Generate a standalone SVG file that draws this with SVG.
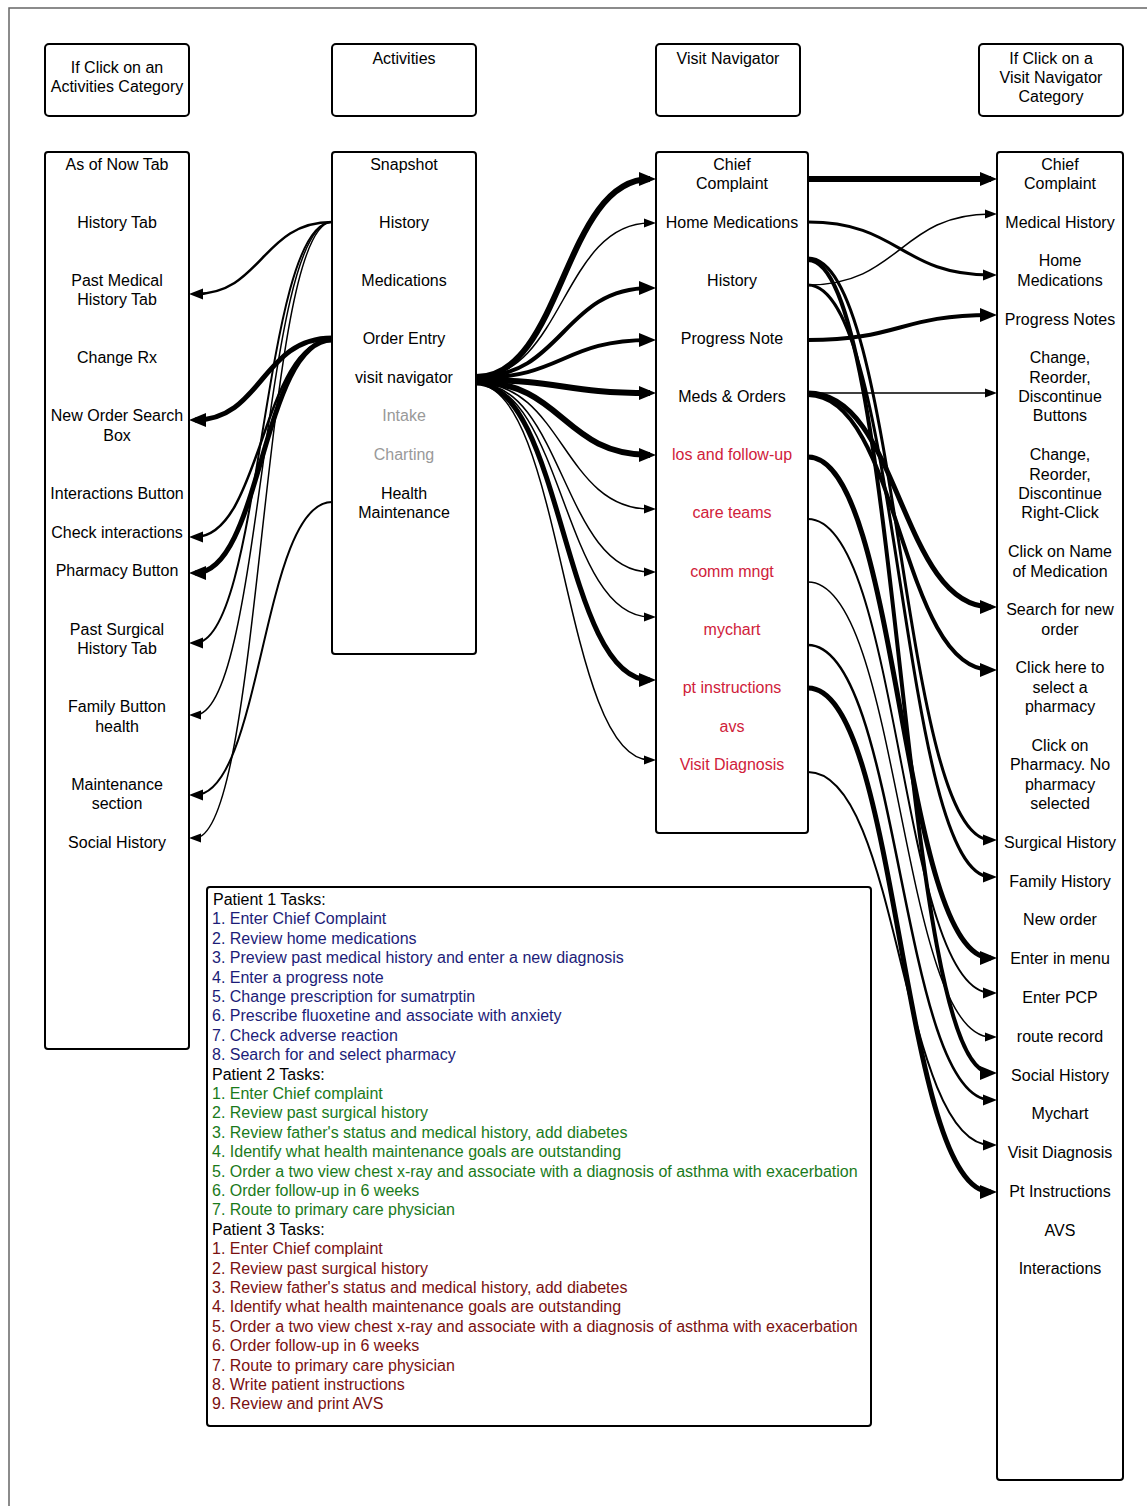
<svg xmlns="http://www.w3.org/2000/svg" width="1147" height="1506" viewBox="0 0 1147 1506">
<style>
.box{fill:#fff;stroke:#000;stroke-width:2}
text{font-family:"Liberation Sans",Arial,sans-serif;font-size:16px;fill:#000}
.c{text-anchor:middle}
.gray{fill:#999}
.red{fill:#d0213a}
.navy{fill:#1c1c78}
.green{fill:#1a7a1a}
.dred{fill:#7a1010}
.cn{fill:none;stroke:#000}
</style>
<defs>
<marker id="a1" markerUnits="userSpaceOnUse" markerWidth="20" markerHeight="20" refX="6" refY="4.5" orient="auto" overflow="visible"><path d="M0,0 L12,4.5 L0,9 z"/></marker>
<marker id="a2" markerUnits="userSpaceOnUse" markerWidth="20" markerHeight="20" refX="8" refY="5.5" orient="auto" overflow="visible"><path d="M0,0 L14,5.5 L0,11 z"/></marker>
<marker id="a3" markerUnits="userSpaceOnUse" markerWidth="24" markerHeight="24" refX="11" refY="7" orient="auto" overflow="visible"><path d="M0,0 L17,7 L0,14 z"/></marker>
</defs>
<rect x="0" y="0" width="1147" height="1506" fill="#fff"/>
<rect x="9" y="8" width="1150" height="1510" fill="none" stroke="#666" stroke-width="1.5"/>

<g id="hdr1"><rect class="box" x="45" y="44" width="144" height="72" rx="4"/><text class="c" x="117" y="72.5">If Click on an</text><text class="c" x="117" y="91.5">Activities Category</text></g>
<g id="hdr2"><rect class="box" x="332" y="44" width="144" height="72" rx="4"/><text class="c" x="404" y="63.5">Activities</text></g>
<g id="hdr3"><rect class="box" x="656" y="44" width="144" height="72" rx="4"/><text class="c" x="728" y="63.5">Visit Navigator</text></g>
<g id="hdr4"><rect class="box" x="979" y="44" width="144" height="72" rx="4"/><text class="c" x="1051" y="63.5">If Click on a</text><text class="c" x="1051" y="82.5">Visit Navigator</text><text class="c" x="1051" y="102">Category</text></g>

<g id="col1"><rect class="box" x="45" y="152" width="144" height="897" rx="3"/>
<text class="c" x="117" y="169.5">As of Now Tab</text>
<text class="c" x="117" y="227.5">History Tab</text>
<text class="c" x="117" y="285.5">Past Medical</text><text class="c" x="117" y="304.5">History Tab</text>
<text class="c" x="117" y="362.5">Change Rx</text>
<text class="c" x="117" y="420.5">New Order Search</text><text class="c" x="117" y="440.5">Box</text>
<text class="c" x="117" y="498.5">Interactions Button</text>
<text class="c" x="117" y="537.5">Check interactions</text>
<text class="c" x="117" y="575.5">Pharmacy Button</text>
<text class="c" x="117" y="634.5">Past Surgical</text><text class="c" x="117" y="653.5">History Tab</text>
<text class="c" x="117" y="711.5">Family Button</text><text class="c" x="117" y="731.5">health</text>
<text class="c" x="117" y="789.5">Maintenance</text><text class="c" x="117" y="808.5">section</text>
<text class="c" x="117" y="847.5">Social History</text>
</g>

<g id="col2"><rect class="box" x="332" y="152" width="144" height="502" rx="3"/>
<text class="c" x="404" y="169.5">Snapshot</text>
<text class="c" x="404" y="227.5">History</text>
<text class="c" x="404" y="285.5">Medications</text>
<text class="c" x="404" y="343.5">Order Entry</text>
<text class="c" x="404" y="382.5">visit navigator</text>
<text class="c gray" x="404" y="420.5">Intake</text>
<text class="c gray" x="404" y="459.5">Charting</text>
<text class="c" x="404" y="498.5">Health</text><text class="c" x="404" y="517.5">Maintenance</text>
</g>

<g id="col3"><rect class="box" x="656" y="152" width="152" height="681" rx="3"/>
<text class="c" x="732" y="169.5">Chief</text><text class="c" x="732" y="188.5">Complaint</text>
<text class="c" x="732" y="227.5">Home Medications</text>
<text class="c" x="732" y="285.5">History</text>
<text class="c" x="732" y="343.5">Progress Note</text>
<text class="c" x="732" y="401.5">Meds &amp; Orders</text>
<text class="c red" x="732" y="459.5">los and follow-up</text>
<text class="c red" x="732" y="517.5">care teams</text>
<text class="c red" x="732" y="576.5">comm mngt</text>
<text class="c red" x="732" y="634.5">mychart</text>
<text class="c red" x="732" y="692.5">pt instructions</text>
<text class="c red" x="732" y="731.5">avs</text>
<text class="c red" x="732" y="769.5">Visit Diagnosis</text>
</g>

<g id="col4"><rect class="box" x="997" y="152" width="126" height="1328" rx="3"/>
<text class="c" x="1060" y="169.5">Chief</text><text class="c" x="1060" y="188.5">Complaint</text>
<text class="c" x="1060" y="227.5">Medical History</text>
<text class="c" x="1060" y="265.5">Home</text><text class="c" x="1060" y="285.5">Medications</text>
<text class="c" x="1060" y="324.5">Progress Notes</text>
<text class="c" x="1060" y="362.5">Change,</text><text class="c" x="1060" y="382.5">Reorder,</text><text class="c" x="1060" y="401.5">Discontinue</text><text class="c" x="1060" y="420.5">Buttons</text>
<text class="c" x="1060" y="459.5">Change,</text><text class="c" x="1060" y="479.5">Reorder,</text><text class="c" x="1060" y="498.5">Discontinue</text><text class="c" x="1060" y="517.5">Right-Click</text>
<text class="c" x="1060" y="556.5">Click on Name</text><text class="c" x="1060" y="576.5">of Medication</text>
<text class="c" x="1060" y="614.5">Search for new</text><text class="c" x="1060" y="634.5">order</text>
<text class="c" x="1060" y="672.5">Click here to</text><text class="c" x="1060" y="692.5">select a</text><text class="c" x="1060" y="711.5">pharmacy</text>
<text class="c" x="1060" y="750.5">Click on</text><text class="c" x="1060" y="769.5">Pharmacy. No</text><text class="c" x="1060" y="789.5">pharmacy</text><text class="c" x="1060" y="808.5">selected</text>
<text class="c" x="1060" y="847.5">Surgical History</text>
<text class="c" x="1060" y="886.5">Family History</text>
<text class="c" x="1060" y="924.5">New order</text>
<text class="c" x="1060" y="963.5">Enter in menu</text>
<text class="c" x="1060" y="1002.5">Enter PCP</text>
<text class="c" x="1060" y="1041.5">route record</text>
<text class="c" x="1060" y="1080.5">Social History</text>
<text class="c" x="1060" y="1118.5">Mychart</text>
<text class="c" x="1060" y="1157.5">Visit Diagnosis</text>
<text class="c" x="1060" y="1196.5">Pt Instructions</text>
<text class="c" x="1060" y="1235.5">AVS</text>
<text class="c" x="1060" y="1273.5">Interactions</text>
</g>

<g id="tasks"><rect class="box" x="207" y="887" width="664" height="539" rx="3"/>
<text x="213" y="905">Patient 1 Tasks:</text>
<text class="navy" x="212" y="924.4">1. Enter Chief Complaint</text>
<text class="navy" x="212" y="943.8">2. Review home medications</text>
<text class="navy" x="212" y="963.2">3. Preview past medical history and enter a new diagnosis</text>
<text class="navy" x="212" y="982.6">4. Enter a progress note</text>
<text class="navy" x="212" y="1002">5. Change prescription for sumatrptin</text>
<text class="navy" x="212" y="1021.4">6. Prescribe fluoxetine and associate with anxiety</text>
<text class="navy" x="212" y="1040.8">7. Check adverse reaction</text>
<text class="navy" x="212" y="1060.2">8. Search for and select pharmacy</text>
<text x="212" y="1079.6">Patient 2 Tasks:</text>
<text class="green" x="212" y="1099">1. Enter Chief complaint</text>
<text class="green" x="212" y="1118.4">2. Review past surgical history</text>
<text class="green" x="212" y="1137.8">3. Review father's status and medical history, add diabetes</text>
<text class="green" x="212" y="1157.2">4. Identify what health maintenance goals are outstanding</text>
<text class="green" x="212" y="1176.6">5. Order a two view chest x-ray and associate with a diagnosis of asthma with exacerbation</text>
<text class="green" x="212" y="1196">6. Order follow-up in 6 weeks</text>
<text class="green" x="212" y="1215.4">7. Route to primary care physician</text>
<text x="212" y="1234.8">Patient 3 Tasks:</text>
<text class="dred" x="212" y="1254.2">1. Enter Chief complaint</text>
<text class="dred" x="212" y="1273.6">2. Review past surgical history</text>
<text class="dred" x="212" y="1293">3. Review father's status and medical history, add diabetes</text>
<text class="dred" x="212" y="1312.4">4. Identify what health maintenance goals are outstanding</text>
<text class="dred" x="212" y="1331.8">5. Order a two view chest x-ray and associate with a diagnosis of asthma with exacerbation</text>
<text class="dred" x="212" y="1351.2">6. Order follow-up in 6 weeks</text>
<text class="dred" x="212" y="1370.6">7. Route to primary care physician</text>
<text class="dred" x="212" y="1390">8. Write patient instructions</text>
<text class="dred" x="212" y="1409.4">9. Review and print AVS</text>
</g>

<g id="connectors">
<!-- col2 to col1 -->
<path class="cn" stroke-width="2.5" marker-end="url(#a2)" d="M332,222 C262,222 262,294 195,294"/>
<path class="cn" stroke-width="5" marker-end="url(#a3)" d="M332,338 C262,338 262,420 195,420"/>
<path class="cn" stroke-width="2.5" marker-end="url(#a2)" d="M332,340 C262,340 262,537 195,537"/>
<path class="cn" stroke-width="5" marker-end="url(#a3)" d="M332,340 C262,340 262,573 195,573"/>
<path class="cn" stroke-width="2" marker-end="url(#a2)" d="M332,222 C262,222 262,643 195,643"/>
<path class="cn" stroke-width="1.5" marker-end="url(#a1)" d="M332,222 C262,222 262,715 195,715"/>
<path class="cn" stroke-width="2" marker-end="url(#a2)" d="M332,502 C262,502 262,795 195,795"/>
<path class="cn" stroke-width="1.5" marker-end="url(#a1)" d="M332,222 C262,222 262,838 195,838"/>
<!-- col2 to col3 -->
<path class="cn" stroke-width="6" marker-end="url(#a3)" d="M476,377 C563,377 563,179 650,179"/>
<path class="cn" stroke-width="1.5" marker-end="url(#a1)" d="M476,377 C563,377 563,223 650,223"/>
<path class="cn" stroke-width="4" marker-end="url(#a3)" d="M476,377 C563,377 563,288 650,288"/>
<path class="cn" stroke-width="4" marker-end="url(#a3)" d="M476,378 C563,378 563,340 650,340"/>
<path class="cn" stroke-width="6" marker-end="url(#a3)" d="M476,380 C563,380 563,393 650,393"/>
<path class="cn" stroke-width="6" marker-end="url(#a3)" d="M476,382 C563,382 563,455 650,455"/>
<path class="cn" stroke-width="1.5" marker-end="url(#a1)" d="M476,383 C563,383 563,509 650,509"/>
<path class="cn" stroke-width="1.5" marker-end="url(#a1)" d="M476,383 C563,383 563,572 650,572"/>
<path class="cn" stroke-width="1.5" marker-end="url(#a1)" d="M476,383 C563,383 563,617 650,617"/>
<path class="cn" stroke-width="5" marker-end="url(#a3)" d="M476,383 C563,383 563,680 650,680"/>
<path class="cn" stroke-width="1.5" marker-end="url(#a1)" d="M476,384 C563,384 563,760 650,760"/>
<!-- col3 to col4 -->
<path class="cn" stroke-width="6" marker-end="url(#a3)" d="M808,179 L991,179"/>
<path class="cn" stroke-width="3" marker-end="url(#a2)" d="M808,222 C900,222 900,275 991,275"/>
<path class="cn" stroke-width="1.5" marker-end="url(#a1)" d="M808,285 C900,285 900,214 991,214"/>
<path class="cn" stroke-width="4" marker-end="url(#a3)" d="M808,340 C900,340 900,315 991,315"/>
<path class="cn" stroke-width="1.5" marker-end="url(#a1)" d="M808,393 L991,393"/>
<path class="cn" stroke-width="5" marker-end="url(#a3)" d="M808,393 C900,393 900,607 991,607"/>
<path class="cn" stroke-width="4" marker-end="url(#a3)" d="M808,395 C900,395 900,670 991,670"/>
<path class="cn" stroke-width="3" marker-end="url(#a2)" d="M808,258 C900,258 900,840 991,840"/>
<path class="cn" stroke-width="3" marker-end="url(#a2)" d="M808,285 C900,285 900,877 991,877"/>
<path class="cn" stroke-width="4" marker-end="url(#a3)" d="M808,260 C900,260 900,1073 991,1073"/>
<path class="cn" stroke-width="5" marker-end="url(#a3)" d="M808,457 C900,457 900,958 991,958"/>
<path class="cn" stroke-width="2" marker-end="url(#a2)" d="M808,519 C900,519 900,993 991,993"/>
<path class="cn" stroke-width="1.5" marker-end="url(#a1)" d="M808,582 C900,582 900,1037 991,1037"/>
<path class="cn" stroke-width="2.5" marker-end="url(#a2)" d="M808,645 C900,645 900,1100 991,1100"/>
<path class="cn" stroke-width="5" marker-end="url(#a3)" d="M808,688 C900,688 900,1192 991,1192"/>
<path class="cn" stroke-width="2" marker-end="url(#a2)" d="M808,772 C900,772 900,1145 991,1145"/>
</g>
</svg>
